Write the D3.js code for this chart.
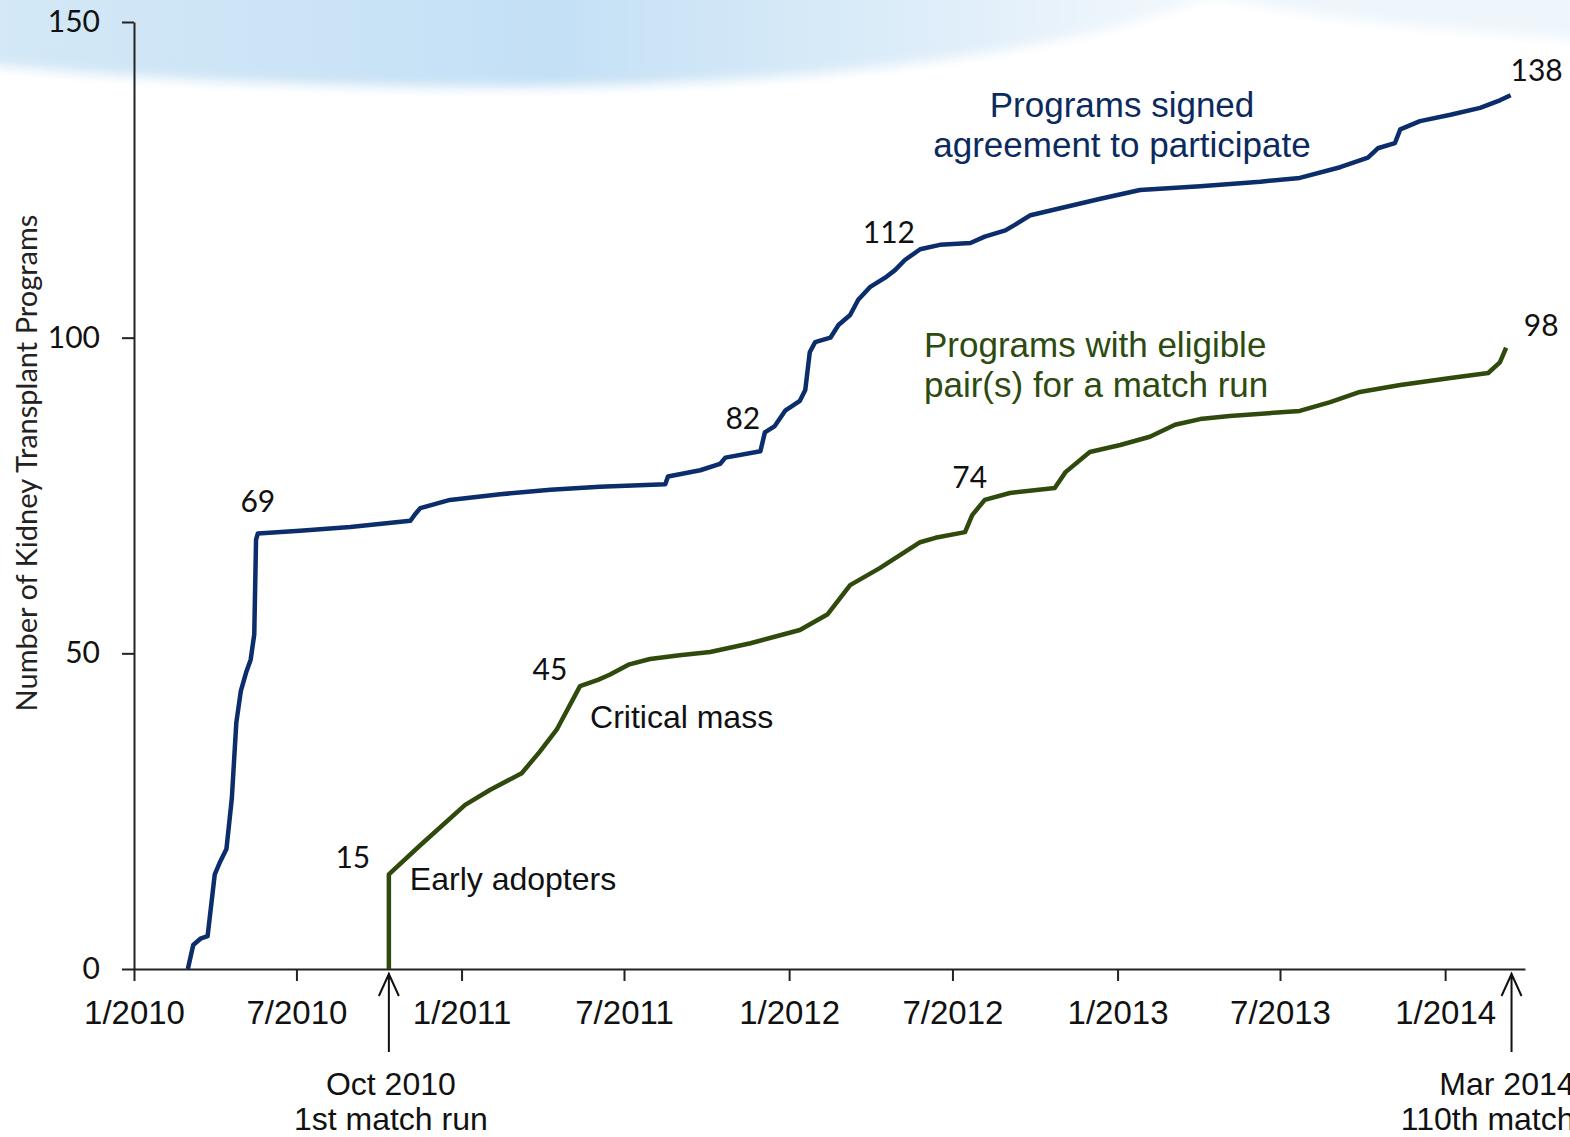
<!DOCTYPE html>
<html>
<head>
<meta charset="utf-8">
<script src="https://cdn.jsdelivr.net/npm/d3@7"></script>
<style>
  html, body { margin: 0; padding: 0; background: #fff; }
  svg { display: block; }
</style>
</head>
<body>
<div id="chart"></div>
<script>
const width = 1570;
const height = 1137;

// programs that signed the agreement to participate
const signedDates = ["2010-03-02","2010-03-08","2010-03-16","2010-03-24","2010-04-01","2010-04-07","2010-04-14","2010-04-20","2010-04-25","2010-04-30","2010-05-06","2010-05-11","2010-05-15","2010-05-17","2010-05-19","2010-07-05","2010-08-30","2010-11-05","2010-11-10","2010-11-16","2010-12-19","2011-02-13","2011-04-10","2011-06-04","2011-08-16","2011-08-19","2011-09-24","2011-10-16","2011-10-22","2011-11-30","2011-12-05","2011-12-16","2011-12-28","2012-01-13","2012-01-19","2012-01-24","2012-01-30","2012-02-16","2012-02-25","2012-03-09","2012-03-18","2012-03-31","2012-04-17","2012-04-28","2012-05-09","2012-05-26","2012-06-17","2012-07-21","2012-08-06","2012-08-29","2012-09-09","2012-09-26","2012-10-29","2012-12-13","2013-01-26","2013-04-03","2013-06-09","2013-07-23","2013-09-06","2013-10-07","2013-10-18","2013-11-06","2013-11-12","2013-12-04","2014-01-07","2014-02-09","2014-03-03","2014-03-15"];
const signedValues = [0,3.8,4.8,5.2,15,17,19,27,39,44,47,49,53,68,69,69.4,70,71,72,73,74.3,75.2,75.9,76.4,76.8,78,79,80,81,82,85,86,88.5,90,91.7,97.7,99.3,100,102,103.6,106,108,109.5,110.7,112.3,114,114.7,115,116,117,117.9,119.4,120.5,122,123.4,124,124.7,125.3,127,128.5,130,130.8,133,134.3,135.3,136.4,137.6,138.4];

// programs with eligible pair(s) for a match run
const eligibleDates = ["2010-10-12","2010-10-12","2010-11-16","2011-01-05","2011-02-02","2011-03-09","2011-03-29","2011-04-17","2011-05-13","2011-06-02","2011-06-15","2011-07-06","2011-07-30","2011-09-01","2011-10-05","2011-11-19","2012-01-13","2012-02-13","2012-03-09","2012-04-11","2012-05-26","2012-06-12","2012-07-15","2012-07-23","2012-08-06","2012-09-03","2012-10-23","2012-11-04","2012-12-01","2013-01-04","2013-02-06","2013-03-06","2013-04-03","2013-05-06","2013-07-23","2013-08-26","2013-09-28","2013-11-12","2014-01-07","2014-02-18","2014-03-03","2014-03-10"];
const eligibleValues = [0,15,19.6,26,28.4,31,34.4,37.9,44.8,45.8,46.6,48.2,49.1,49.7,50.2,51.6,53.7,56.2,60.8,63.5,67.6,68.3,69.2,71.9,74.3,75.4,76.2,78.7,81.9,83,84.3,86.2,87.1,87.6,88.4,89.8,91.4,92.5,93.6,94.4,96.1,98.4];

// value callouts on the lines
const signedCallouts = [["2010-05-19", 69], ["2011-12-05", 82], ["2012-05-09", 112], ["2014-03-15", 138]];
const eligibleCallouts = [["2010-10-12", 15], ["2011-05-13", 45], ["2012-08-06", 74], ["2014-03-10", 98]];

const xTicks = ["2010-01-01","2010-07-01","2011-01-01","2011-07-01","2012-01-01","2012-07-01","2013-01-01","2013-07-01","2014-01-01"];
const yTicks = [0, 50, 100, 150];

const parse = d3.timeParse("%Y-%m-%d");
const navy = "#0c2d6b";
const green = "#2f4a0c";
const arial = "'Liberation Sans', Arial, sans-serif";
const calibri = "Lato, 'Open Sans', sans-serif";

const svg = d3.select("#chart").append("svg")
  .attr("width", width)
  .attr("height", height);

// slide background swoosh
const defs = svg.append("defs");
const grad = defs.append("linearGradient").attr("id", "sky")
  .attr("x1", "0").attr("y1", "0").attr("x2", "1").attr("y2", "0");
grad.append("stop").attr("offset", "0%").attr("stop-color", "#d4e8f7");
grad.append("stop").attr("offset", "45%").attr("stop-color", "#c4e0f5");
grad.append("stop").attr("offset", "80%").attr("stop-color", "#e3f0fa");
grad.append("stop").attr("offset", "100%").attr("stop-color", "#f7fbfe");
defs.append("filter").attr("id", "soft")
  .append("feGaussianBlur").attr("stdDeviation", 6);

svg.append("path")
  .attr("d", "M-20,-20 H1250 C1150,30 950,72 650,84 C420,92 200,84 -20,64 Z")
  .attr("fill", "url(#sky)")
  .attr("filter", "url(#soft)");
svg.append("path")
  .attr("d", "M1150,-20 H1590 V40 C1450,30 1300,22 1150,-20 Z")
  .attr("fill", "#eef6fc")
  .attr("filter", "url(#soft)");

const x = d3.scaleTime()
  .domain([parse("2010-01-01"), parse("2014-03-31")])
  .range([134, 1525]);

const y = d3.scaleLinear()
  .domain([0, 150])
  .range([969, 22]);

// x axis
const xAxis = svg.append("g")
  .attr("transform", "translate(0," + y(0) + ")")
  .call(d3.axisBottom(x)
    .tickValues(xTicks.map(parse))
    .tickFormat(d3.timeFormat("%-m/%Y"))
    .tickSize(12)
    .tickSizeOuter(0)
    .tickPadding(20));
xAxis.selectAll("text")
  .style("font-family", arial)
  .style("font-size", "33px")
  .attr("fill", "#111");

// y axis
const yAxis = svg.append("g")
  .attr("transform", "translate(" + x.range()[0] + ",0)")
  .call(d3.axisLeft(y)
    .tickValues(yTicks)
    .tickSize(12)
    .tickSizeOuter(0)
    .tickPadding(22));
yAxis.selectAll("text")
  .style("font-family", calibri)
  .style("font-size", "30px")
  .attr("fill", "#111");

svg.selectAll(".domain, .tick line")
  .attr("stroke", "#222")
  .attr("stroke-width", 2);

svg.append("text")
  .attr("transform", "translate(37,463) rotate(-90)")
  .attr("text-anchor", "middle")
  .style("font-family", calibri)
  .style("font-size", "29px")
  .attr("fill", "#222")
  .text("Number of Kidney Transplant Programs");

// lines
const line = d3.line()
  .x(d => x(d[0]))
  .y(d => y(d[1]))
  .curve(d3.curveLinear);

const signed = signedDates.map((d, i) => [parse(d), signedValues[i]]);
const eligible = eligibleDates.map((d, i) => [parse(d), eligibleValues[i]]);

svg.append("path")
  .datum(signed)
  .attr("d", line)
  .attr("fill", "none")
  .attr("stroke", navy)
  .attr("stroke-width", 4.5)
  .attr("stroke-linejoin", "round");

svg.append("path")
  .datum(eligible)
  .attr("d", line)
  .attr("fill", "none")
  .attr("stroke", green)
  .attr("stroke-width", 4.5)
  .attr("stroke-linejoin", "round");

// callout numbers
const calloutOffsets = {
  69: [0, -21], 82: [-22, -22], 112: [-16, -19], 138: [26, -17],
  15: [-36, -6], 45: [-30, -5], 74: [-15, -14], 98: [35, -14]
};
svg.append("g").selectAll("text")
  .data(signedCallouts.concat(eligibleCallouts))
  .join("text")
  .attr("x", d => x(parse(d[0])) + calloutOffsets[d[1]][0])
  .attr("y", d => y(d[1]) + calloutOffsets[d[1]][1])
  .attr("text-anchor", "middle")
  .style("font-family", calibri)
  .style("font-size", "30px")
  .attr("fill", "#111")
  .text(d => d[1]);

// series labels
const signedLabel = svg.append("text")
  .attr("text-anchor", "middle")
  .style("font-family", arial)
  .style("font-size", "35px")
  .attr("fill", "#0b2a5e");
signedLabel.append("tspan").attr("x", 1122).attr("y", 117).text("Programs signed");
signedLabel.append("tspan").attr("x", 1122).attr("y", 157).text("agreement to participate");

const eligibleLabel = svg.append("text")
  .style("font-family", arial)
  .style("font-size", "35px")
  .attr("fill", "#2d4a10");
eligibleLabel.append("tspan").attr("x", 924).attr("y", 357).text("Programs with eligible");
eligibleLabel.append("tspan").attr("x", 924).attr("y", 397).text("pair(s) for a match run");

svg.append("text")
  .attr("x", x(parse("2010-10-12")) + 21)
  .attr("y", y(15) + 16)
  .style("font-family", arial)
  .style("font-size", "32px")
  .attr("fill", "#111")
  .text("Early adopters");

svg.append("text")
  .attr("x", x(parse("2011-05-13")) + 10)
  .attr("y", y(45) + 43)
  .style("font-family", arial)
  .style("font-size", "32px")
  .attr("fill", "#111")
  .text("Critical mass");

// milestone arrows under the axis
const milestones = [
  { date: "2010-10-12", lines: ["Oct 2010", "1st match run"], anchor: "middle", dx: 2 },
  { date: "2014-03-16", lines: ["Mar 2014", "110th match"], anchor: "end", dx: 63 }
];
milestones.forEach(m => {
  const mx = x(parse(m.date));
  svg.append("path")
    .attr("d", "M" + mx + ",1052 V973 M" + (mx - 10) + ",996 L" + mx + ",974 L" + (mx + 10) + ",996")
    .attr("fill", "none")
    .attr("stroke", "#111")
    .attr("stroke-width", 2);
  const t = svg.append("text")
    .attr("text-anchor", m.anchor)
    .style("font-family", arial)
    .style("font-size", "32px")
    .attr("fill", "#111");
  t.append("tspan").attr("x", mx + m.dx).attr("y", 1095).text(m.lines[0]);
  t.append("tspan").attr("x", mx + m.dx).attr("y", 1130).text(m.lines[1]);
});
</script>
</body>
</html>
